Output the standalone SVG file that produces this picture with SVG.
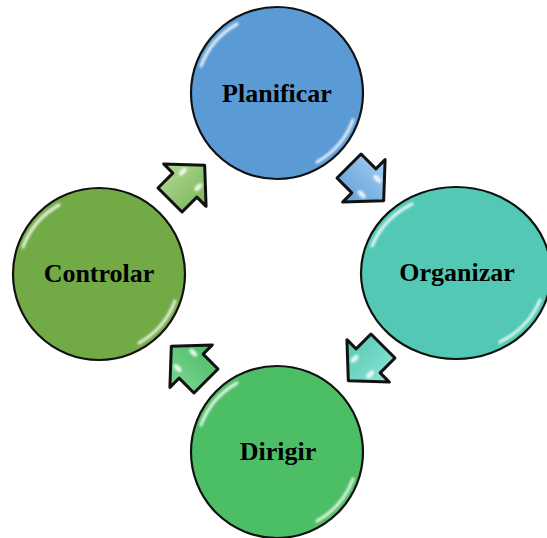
<svg xmlns="http://www.w3.org/2000/svg" width="547" height="538" viewBox="0 0 547 538">
  <defs>
    <style>
      .disc { stroke: #111; stroke-width: 2.2; }
      .gloss { fill: none; stroke: #fff; stroke-width: 3.2; stroke-linecap: round; opacity: 0.8; filter: url(#soft); }
      .label { font-family: "Liberation Serif", "Times New Roman", serif; font-weight: bold; font-size: 26px; fill: #000; text-anchor: middle; }
      .arrow { stroke: #111; stroke-width: 3; stroke-linejoin: round; }
      .spark { fill: #fff; opacity: 0.85; filter: url(#soft); }
    </style>
    <filter id="soft" x="-50%" y="-50%" width="200%" height="200%">
      <feGaussianBlur stdDeviation="1.1"/>
    </filter>
    <linearGradient id="gArrow1" x1="0" y1="0" x2="0" y2="1">
      <stop offset="0" stop-color="#b3d99a"/>
      <stop offset="1" stop-color="#79b553"/>
    </linearGradient>
    <linearGradient id="gArrow2" x1="0" y1="0" x2="0" y2="1">
      <stop offset="0" stop-color="#a5cdf0"/>
      <stop offset="1" stop-color="#5f9fd8"/>
    </linearGradient>
    <linearGradient id="gArrow3" x1="0" y1="0" x2="0" y2="1">
      <stop offset="0" stop-color="#8fe3d4"/>
      <stop offset="1" stop-color="#52c9b4"/>
    </linearGradient>
    <linearGradient id="gArrow4" x1="0" y1="0" x2="0" y2="1">
      <stop offset="0" stop-color="#7ed595"/>
      <stop offset="1" stop-color="#49bb62"/>
    </linearGradient>
    <path id="blockArrow" d="M-24,-17 L-3,-17 L-3,-30 L25,0 L-3,30 L-3,17 L-24,17 Z"/>
  </defs>

  <!-- cycle connectors -->
  <g id="connectors">
    <g transform="translate(187,183) rotate(-45)">
      <use href="#blockArrow" class="arrow" fill="url(#gArrow1)"/>
      <ellipse class="spark" cx="5" cy="-11" rx="5" ry="2.5"/>
      <ellipse class="spark" cx="5" cy="11" rx="5" ry="2.5"/>
    </g>
    <g transform="translate(366,183) rotate(45)">
      <use href="#blockArrow" class="arrow" fill="url(#gArrow2)"/>
      <ellipse class="spark" cx="5" cy="-11" rx="5" ry="2.5"/>
      <ellipse class="spark" cx="5" cy="11" rx="5" ry="2.5"/>
    </g>
    <g transform="translate(366,363) rotate(135)">
      <use href="#blockArrow" class="arrow" fill="url(#gArrow3)"/>
      <ellipse class="spark" cx="5" cy="-11" rx="5" ry="2.5"/>
      <ellipse class="spark" cx="5" cy="11" rx="5" ry="2.5"/>
    </g>
    <g transform="translate(189,364) rotate(-135)">
      <use href="#blockArrow" class="arrow" fill="url(#gArrow4)"/>
      <ellipse class="spark" cx="5" cy="-11" rx="5" ry="2.5"/>
      <ellipse class="spark" cx="5" cy="11" rx="5" ry="2.5"/>
    </g>
  </g>

  <g id="planificar">
    <circle class="disc" cx="277" cy="93" r="86" fill="#5b9bd5"/>
    <path class="gloss" d="M201,66 A80,80 0 0 1 237,24"/>
    <path class="gloss" d="M353,120 A80,80 0 0 1 317,162"/>
    <text class="label" x="277" y="102">Planificar</text>
  </g>

  <g id="organizar">
    <ellipse class="disc" cx="456" cy="273" rx="95" ry="86" fill="#53c9b5"/>
    <path class="gloss" d="M372,246 A88,80 0 0 1 412,204"/>
    <path class="gloss" d="M540,300 A88,80 0 0 1 500,342"/>
    <text class="label" x="457" y="281">Organizar</text>
  </g>

  <g id="dirigir">
    <circle class="disc" cx="277" cy="452" r="86" fill="#4cbe65"/>
    <path class="gloss" d="M201,425 A80,80 0 0 1 237,383"/>
    <path class="gloss" d="M353,479 A80,80 0 0 1 317,521"/>
    <text class="label" x="278" y="460">Dirigir</text>
  </g>

  <g id="controlar">
    <circle class="disc" cx="99" cy="274" r="86" fill="#72ab46"/>
    <path class="gloss" d="M23,247 A80,80 0 0 1 59,205"/>
    <path class="gloss" d="M175,301 A80,80 0 0 1 139,343"/>
    <text class="label" x="99" y="282">Controlar</text>
  </g>
</svg>
